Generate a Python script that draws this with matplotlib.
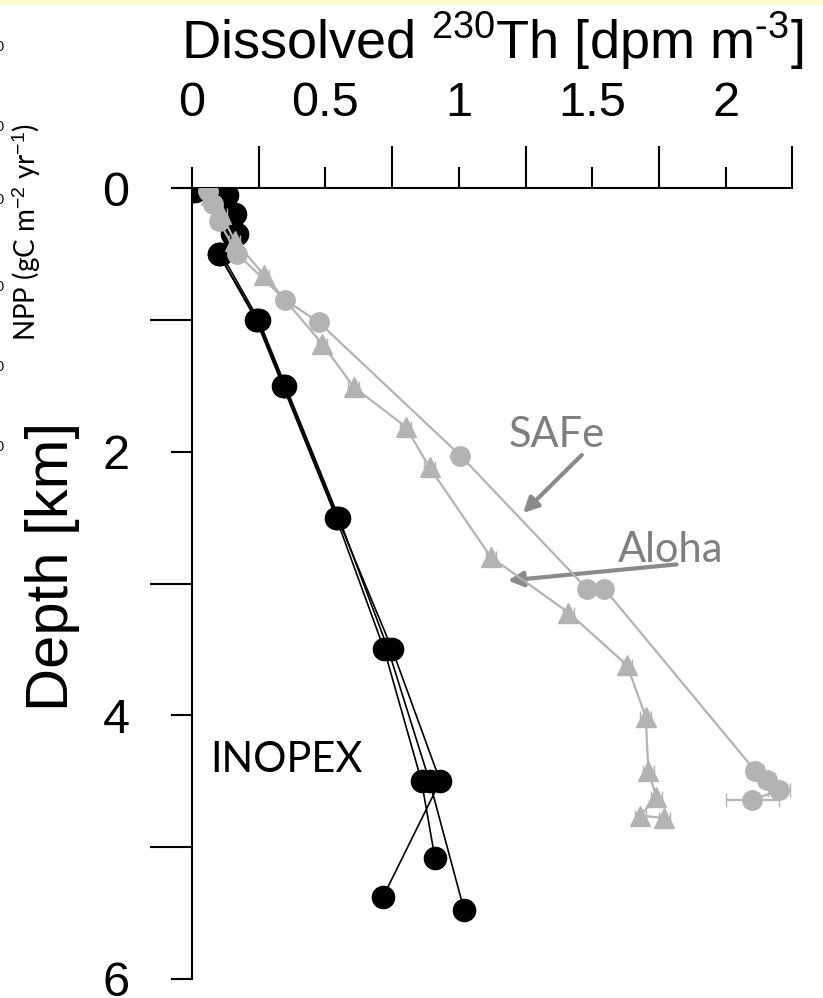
import matplotlib.pyplot as plt
from matplotlib.patches import Rectangle
from matplotlib.ticker import MultipleLocator

plt.rcParams['font.family'] = ['Liberation Sans', 'DejaVu Sans']
plt.rcParams['mathtext.fontset'] = 'custom'
plt.rcParams['mathtext.rm'] = 'Liberation Sans'
plt.rcParams['mathtext.it'] = 'Liberation Sans:italic'

# INOPEX profiles (black): dissolved 230Th [dpm m-3] vs depth [km]
ino_depth_a = [0.02, 0.05, 0.2, 0.35, 0.5, 1.0, 1.5, 2.5, 3.5, 4.5, 5.08]
ino_th_a = [0.0, 0.12, 0.15, 0.16, 0.10, 0.24, 0.34, 0.54, 0.72, 0.86, 0.91]
ino_depth_b = [0.02, 0.05, 0.2, 0.35, 0.5, 1.0, 1.5, 2.5, 3.5, 4.5, 5.48]
ino_th_b = [0.0, 0.13, 0.16, 0.17, 0.11, 0.25, 0.35, 0.55, 0.735, 0.89, 1.02]
ino_depth_c = [0.02, 0.05, 0.2, 0.35, 0.5, 1.0, 1.5, 2.5, 3.5, 4.5, 5.38]
ino_th_c = [0.01, 0.11, 0.14, 0.15, 0.10, 0.245, 0.345, 0.545, 0.75, 0.93, 0.715]

# SAFe (grey circles)
safe_depth = [0.02, 0.12, 0.25, 0.5, 0.85, 1.02, 2.03, 3.04, 3.04, 4.42, 4.49, 4.57, 4.64]
safe_th = [0.06, 0.08, 0.10, 0.17, 0.35, 0.476, 1.006, 1.48, 1.545, 2.11, 2.155, 2.20, 2.10]
safe_err = [0.01, 0.01, 0.01, 0.01, 0.02, 0.02, 0.02, 0.02, 0.02, 0.03, 0.03, 0.04, 0.10]

# Aloha (grey triangles)
aloha_depth = [0.05, 0.2, 0.4, 0.66, 1.18, 1.51, 1.81, 2.12, 2.80, 3.22, 3.62, 4.01, 4.42, 4.62, 4.76, 4.78]
aloha_th = [0.07, 0.11, 0.16, 0.27, 0.487, 0.606, 0.80, 0.89, 1.12, 1.41, 1.63, 1.70, 1.71, 1.74, 1.68, 1.77]
aloha_err = [0.02] * len(aloha_depth)

grey = '#b3b3b3'

fig = plt.figure(figsize=(8.23, 9.98), dpi=100)
ax = fig.add_axes([192 / 823, 1 - 979 / 998, (792.5 - 192) / 823, (979 - 188) / 998])

for d, t in [(ino_depth_a, ino_th_a), (ino_depth_b, ino_th_b), (ino_depth_c, ino_th_c)]:
    ax.plot(t, d, color='black', lw=1.2, marker='o', ms=16, mec='black', mfc='black', zorder=3)

ax.errorbar(safe_th, safe_depth, xerr=safe_err, color=grey, lw=1.6, marker='o', ms=14,
            capsize=5, elinewidth=1.6, zorder=4)
ax.errorbar(aloha_th, aloha_depth, xerr=aloha_err, color=grey, lw=1.6, marker='^', ms=14,
            capsize=4, elinewidth=1.6, zorder=4)

ax.set_xlim(0.01, 2.25)
ax.set_ylim(6, 0)
ax.spines['right'].set_visible(False)
ax.spines['bottom'].set_visible(False)
ax.spines['top'].set_bounds(-0.065, 2.25)
for s in ('top', 'left'):
    ax.spines[s].set_linewidth(1.5)

ax.xaxis.tick_top()
ax.xaxis.set_label_position('top')
ax.xaxis.set_minor_locator(MultipleLocator(0.25))
ax.yaxis.set_major_locator(MultipleLocator(2))
ax.yaxis.set_minor_locator(MultipleLocator(1))
ax.set_xticks([0, 0.5, 1, 1.5, 2])
ax.set_xticklabels(['0', '0.5', '1', '1.5', '2'])
ax.tick_params(axis='both', which='major', length=15, width=1.5, labelsize=35)
ax.tick_params(axis='both', which='minor', length=30, width=1.5)
ax.tick_params(axis='x', which='major', pad=30)
ax.tick_params(axis='y', which='major', pad=30)

ax.set_xlabel('Dissolved $^{\\mathrm{230}}$Th [dpm m$^{\\mathrm{\u20103}}$]', fontsize=39, labelpad=16)
ax.set_ylabel('Depth [km]', fontsize=43)
ax.yaxis.set_label_coords(-0.1865, 0.521)

# station labels and arrows
ax.text(0.069, 4.43, 'INOPEX', fontsize=30, family='Lato', color='black')
ax.text(1.185, 1.965, 'SAFe', fontsize=30, family='Lato', color='#7f7f7f')
ax.text(1.595, 2.84, 'Aloha', fontsize=30, family='Lato', color='#7f7f7f')
arrow = dict(arrowstyle='-|>,head_length=0.9,head_width=0.45', color='#8a8a8a', lw=3)
ax.annotate('', xy=(1.233, 2.48), xytext=(1.468, 2.01), arrowprops=arrow)
ax.annotate('', xy=(1.173, 2.98), xytext=(1.826, 2.853), arrowprops=arrow)

# neighbouring panel: NPP axis label and clipped tick labels
fig.text(27 / 823, 1 - 232 / 998, r'NPP (gC m$^{\mathrm{-2}}$ yr$^{\mathrm{-1}}$)', rotation=90,
         ha='center', va='center', fontsize=20, family='Lato')
for yp in [47, 127, 200, 287, 367, 447]:
    fig.text(0.0, 1 - yp / 998, '0', ha='center', va='center', fontsize=10, family='Lato')

fig.patches.append(Rectangle((0, 1 - 5 / 998), 1, 5 / 998, transform=fig.transFigure,
                             facecolor='#fdfbd2', edgecolor='none'))

fig.savefig('out.png', dpi=100)
